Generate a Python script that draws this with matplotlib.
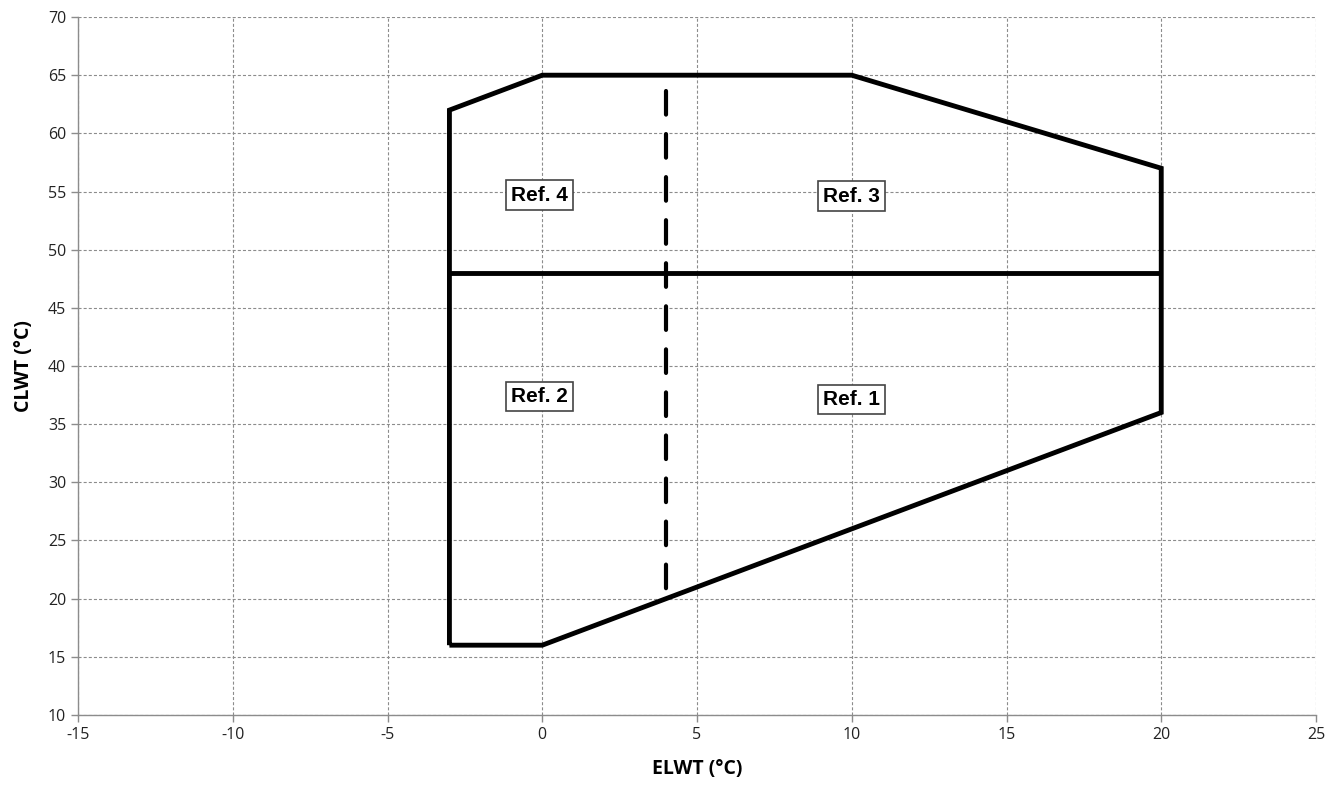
import matplotlib
matplotlib.use("Agg")
import matplotlib.pyplot as plt

plt.rcParams["axes.unicode_minus"] = False
plt.rcParams["lines.scale_dashes"] = False

# Envelope outline
env_x = [-3, 0, 20, 20, 10, 0, -3, -3]
env_y = [16, 16, 36, 57, 65, 65, 62, 16]
# Horizontal divider
div_x = [-3, 20]
div_y = [48, 48]
# Dashed divider
dash_x = [4, 4]
dash_y = [63.6, 20]
# Labels
labels = ["Ref. 4", "Ref. 3", "Ref. 2", "Ref. 1"]
label_x = [-0.1, 10, -0.1, 10]
label_y = [54.7, 54.6, 37.4, 37.1]

xticks = list(range(-15, 26, 5))
yticks = list(range(10, 71, 5))

fig = plt.figure(figsize=(13.34, 7.85), dpi=100)
ax = fig.add_axes([0.0585, 0.0892, 0.928, 0.8891])

ax.set_xlim(-15, 25)
ax.set_ylim(10, 70)
ax.set_xticks(xticks)
ax.set_yticks(yticks)
ax.grid(True, color="#8c8c8c", linestyle=(0, (2.2, 1.5)), linewidth=0.8)
ax.set_axisbelow(True)
for s in ["top", "right"]:
    ax.spines[s].set_visible(False)
for s in ["left", "bottom"]:
    ax.spines[s].set_color("#8c8c8c")
    ax.spines[s].set_linewidth(1.0)
ax.tick_params(axis="both", colors="#8c8c8c", length=5, width=1, labelcolor="#222222", labelsize=11.5)
for lab in ax.get_xticklabels() + ax.get_yticklabels():
    lab.set_family("Open Sans")

ax.plot(env_x, env_y, color="black", linewidth=3.5, solid_joinstyle="miter", solid_capstyle="butt", zorder=3)
ax.plot(div_x, div_y, color="black", linewidth=3.5, solid_capstyle="butt", zorder=3)
dl, = ax.plot(dash_x, dash_y, color="black", linewidth=3, dash_capstyle="round", zorder=3)
dl.set_dashes([17, 14])

for t, x, y in zip(labels, label_x, label_y):
    ax.text(x, y, t, ha="center", va="center", fontsize=15, fontweight="bold",
            family="Liberation Sans", zorder=4,
            bbox=dict(boxstyle="square,pad=0.25", facecolor="white", edgecolor="#444444", linewidth=1.2))

ax.set_xlabel("ELWT (°C)", fontsize=14, fontweight="bold", family="Open Sans", labelpad=12)
ax.set_ylabel("CLWT (°C)", fontsize=14, fontweight="bold", family="Open Sans", labelpad=10)

fig.savefig("out.png", dpi=100)
